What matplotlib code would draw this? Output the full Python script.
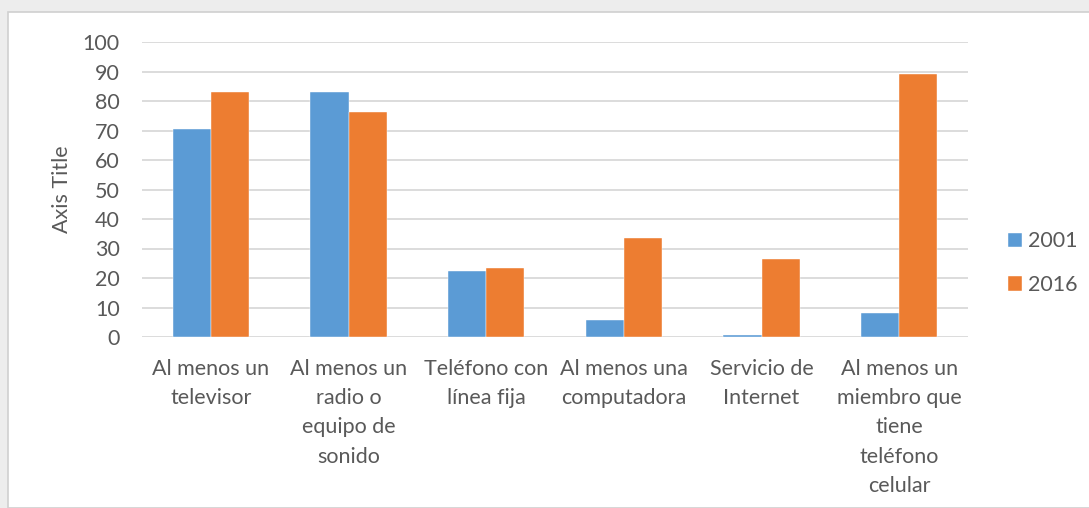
import numpy as np
import matplotlib.pyplot as plt
from matplotlib.patches import Rectangle

# data
categorias = ['Al menos un\ntelevisor',
              'Al menos un\nradio o\nequipo de\nsonido',
              'Teléfono con\nlínea fija',
              'Al menos una\ncomputadora',
              'Servicio de\nInternet',
              'Al menos un\nmiembro que\ntiene\nteléfono\ncelular']
v2001 = [70.5, 83.0, 22.3, 5.8, 0.6, 8.0]
v2016 = [83.0, 76.3, 23.5, 33.5, 26.5, 89.0]
series = ['2001', '2016']
yticks = [0, 10, 20, 30, 40, 50, 60, 70, 80, 90, 100]

blue = '#5B9BD5'
orange = '#ED7D31'
gray_txt = '#595959'

plt.rcParams['font.family'] = ['Lato', 'DejaVu Sans']

W, H = 1089, 508
fig = plt.figure(figsize=(W/100, H/100), dpi=100)
fig.patch.set_facecolor('#EDEDED')
# chart area (white with light border), kept behind the axes
fig.add_artist(Rectangle((8/W, 0), 1.0, (H-12)/H, transform=fig.transFigure,
                         facecolor='white', edgecolor='#D0D0D0', linewidth=1.2, zorder=-10))

ax = fig.add_axes([142/W, (H-337)/H, (968-142)/W, (337-42)/H])
ax.set_facecolor('none')
x = np.arange(len(categorias))
bw = 0.278
ax.bar(x - bw/2, v2001, bw, color=blue, label=series[0], edgecolor='white', linewidth=0.3, zorder=3)
ax.bar(x + bw/2, v2016, bw, color=orange, label=series[1], edgecolor='white', linewidth=0.3, zorder=3)

ax.set_xlim(-0.5, len(categorias) - 0.5)
ax.set_ylim(0, 100)
ax.set_yticks(yticks)
ax.yaxis.grid(True, color='#D9D9D9', linewidth=1.3, zorder=0)
for s in ['top', 'right', 'left', 'bottom']:
    ax.spines[s].set_visible(False)
ax.tick_params(axis='both', length=0, labelsize=15.5, colors=gray_txt)
ax.tick_params(axis='y', pad=16)
ax.tick_params(axis='x', pad=16)
ax.set_xticks(x)
ax.set_xticklabels(categorias, linespacing=1.57, va='top')
ax.set_ylabel('Axis Title', fontsize=15.5, color=gray_txt, labelpad=8)

leg = ax.legend(loc='center left', bbox_to_anchor=(1.025, 0.25), frameon=False,
                fontsize=15.5, handlelength=0.65, handleheight=0.65, labelspacing=1.1,
                handletextpad=0.3)
for t in leg.get_texts():
    t.set_color(gray_txt)

fig.savefig('out.png', dpi=100)
